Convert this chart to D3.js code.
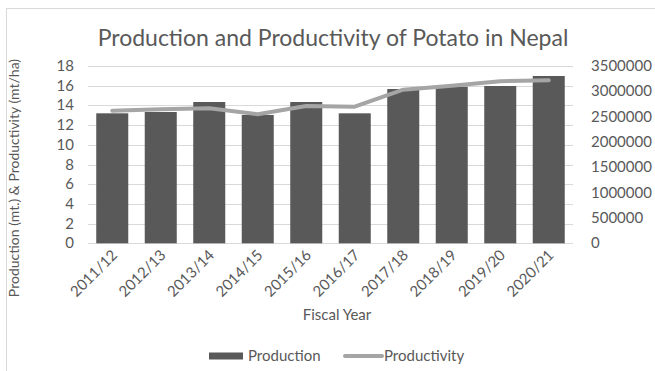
<!DOCTYPE html>
<html>
<head>
<meta charset="utf-8">
<script src="https://cdn.jsdelivr.net/npm/d3@7"></script>
<style>
  body { margin: 0; background: #fff; }
  text { font-family: "Lato", "Open Sans", sans-serif; fill: #595959; }
</style>
</head>
<body>
<div id="chart"></div>
<script>
(function () {
"use strict";

// Data
var years = ["2011/12", "2012/13", "2013/14", "2014/15", "2015/16",
             "2016/17", "2017/18", "2018/19", "2019/20", "2020/21"];
var production = [2566000, 2592000, 2789000, 2533000, 2789000,
                  2566000, 3046000, 3091000, 3105000, 3303000];
var productivity = [13.46, 13.6, 13.7, 13.1, 13.94, 13.87, 15.6, 16.0, 16.45, 16.55];
var leftTicks = d3.range(0, 19, 2);
var rightTicks = d3.range(0, 3500001, 500000);

var fullWidth = 655, fullHeight = 371;

var plot = { x0: 88, x1: 573, y0: 66, y1: 243.3 };

var xScale = d3.scaleBand()
  .domain(years)
  .range([plot.x0, plot.x1])
  .paddingInner(0.34)
  .paddingOuter(0.17);

var yLeft = d3.scaleLinear().domain([0, 18]).range([plot.y1, plot.y0]);
var yRight = d3.scaleLinear().domain([0, 3500000]).range([plot.y1, plot.y0]);

var svg = d3.select("#chart").append("svg")
  .attr("width", fullWidth)
  .attr("height", fullHeight);

// chart frame
svg.append("rect")
  .attr("x", 6.5).attr("y", 8.5)
  .attr("width", 660).attr("height", 380)
  .style("fill", "none")
  .style("stroke", "#d9d9d9");

// title
svg.append("text")
  .attr("x", 333).attr("y", 46)
  .style("text-anchor", "middle")
  .style("font-size", "23px")
  .text("Production and Productivity of Potato in Nepal");

// gridlines
svg.append("g").selectAll("line")
  .data(leftTicks)
  .enter().append("line")
    .attr("x1", plot.x0).attr("x2", plot.x1)
    .attr("y1", function(d) { return Math.round(yLeft(d)) + 0.5; })
    .attr("y2", function(d) { return Math.round(yLeft(d)) + 0.5; })
    .style("stroke", "#d9d9d9")
    .style("stroke-width", 1);

// left axis labels
svg.append("g").selectAll("text")
  .data(leftTicks)
  .enter().append("text")
    .attr("x", 74)
    .attr("y", function(d) { return yLeft(d) + 5; })
    .style("text-anchor", "end")
    .style("font-size", "15px")
    .text(function(d) { return d; });

// right axis labels
svg.append("g").selectAll("text")
  .data(rightTicks)
  .enter().append("text")
    .attr("x", 591)
    .attr("y", function(d) { return yRight(d) + 5; })
    .style("text-anchor", "start")
    .style("font-size", "15px")
    .text(function(d) { return d; });

// bars
svg.append("g").selectAll("rect")
  .data(production)
  .enter().append("rect")
    .attr("x", function(d, i) { return xScale(years[i]); })
    .attr("width", xScale.bandwidth())
    .attr("y", function(d) { return yRight(d); })
    .attr("height", function(d) { return yRight(0) - yRight(d); })
    .style("fill", "#595959");

// productivity line
var line = d3.line()
  .x(function(d, i) { return xScale(years[i]) + xScale.bandwidth() / 2; })
  .y(function(d) { return yLeft(d); });

svg.append("path")
  .datum(productivity)
  .attr("d", line)
  .style("fill", "none")
  .style("stroke", "#a5a5a5")
  .style("stroke-width", 4)
  .style("stroke-linecap", "round")
  .style("stroke-linejoin", "round");

// x labels
svg.append("g").selectAll("text")
  .data(years)
  .enter().append("text")
    .attr("transform", function(d) {
      var cx = xScale(d) + xScale.bandwidth() / 2 + 6;
      return "translate(" + cx + ",256) rotate(-45)";
    })
    .style("text-anchor", "end")
    .style("font-size", "15px")
    .text(function(d) { return d; });

// axis titles
svg.append("text")
  .attr("x", 337).attr("y", 320)
  .style("text-anchor", "middle")
  .style("font-size", "15px")
  .text("Fiscal Year");

svg.append("text")
  .attr("transform", "translate(19,178) rotate(-90)")
  .style("text-anchor", "middle")
  .style("font-size", "14px")
  .text("Production (mt.) & Productivity (mt/ha)");

// legend
var legend = svg.append("g");
legend.append("rect")
  .attr("x", 209).attr("y", 352.5)
  .attr("width", 34).attr("height", 7)
  .style("fill", "#595959");
legend.append("text")
  .attr("x", 248).attr("y", 361)
  .style("font-size", "15px")
  .text("Production");
legend.append("line")
  .attr("x1", 345).attr("x2", 382)
  .attr("y1", 356).attr("y2", 356)
  .style("stroke", "#a5a5a5")
  .style("stroke-width", 4)
  .style("stroke-linecap", "round");
legend.append("text")
  .attr("x", 384).attr("y", 361)
  .style("font-size", "15px")
  .text("Productivity");

})();
</script>
</body>
</html>
